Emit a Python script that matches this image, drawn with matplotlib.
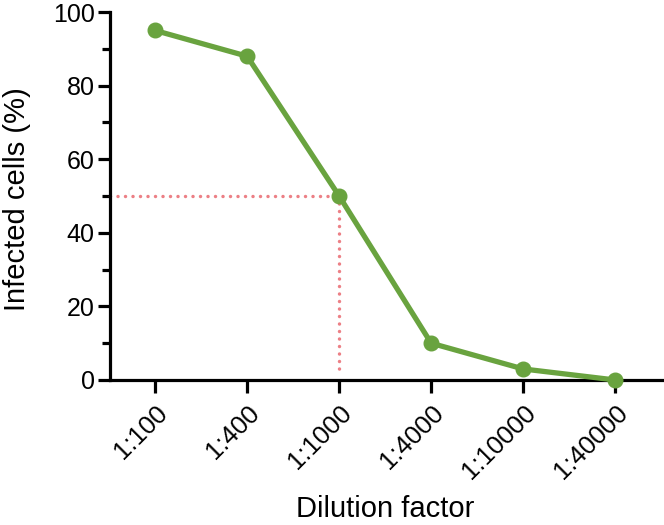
import matplotlib.pyplot as plt
from matplotlib.ticker import MultipleLocator

plt.rcParams['font.family'] = ['Liberation Sans', 'DejaVu Sans']

# data
dilutions = ['1:100', '1:400', '1:1000', '1:4000', '1:10000', '1:40000']
infected = [95, 88, 50, 10, 3, 0]
half_idx = 2
half_value = 50

green = '#69a33f'
red = '#ec8086'

fig = plt.figure(figsize=(6.64, 5.25), dpi=100)
ax = fig.add_axes([0.1657, 0.2762, 0.8343, 0.7008])

x = list(range(len(dilutions)))

# red dotted guide lines at 50 %
dots = (0, (0.01, 2.15))
ax.plot([-0.49, half_idx], [half_value, half_value], color=red, lw=2.5,
        linestyle=dots, dash_capstyle='round', zorder=2, clip_on=False)
ax.plot([half_idx, half_idx], [half_value, 1.5], color=red, lw=2.5,
        linestyle=dots, dash_capstyle='round', zorder=2, clip_on=False)

ax.plot(x, infected, color=green, lw=3.8, marker='o', markersize=10.5,
        zorder=3, clip_on=False)

ax.set_xlim(-0.49, 5.53)
ax.set_ylim(0, 100)
ax.set_xticks(x)
ax.set_xticklabels(dilutions, rotation=45, ha='right', rotation_mode='anchor',
                   fontsize=18.5)
ax.yaxis.set_major_locator(MultipleLocator(20))
ax.yaxis.set_minor_locator(MultipleLocator(10))
ax.tick_params(axis='y', labelsize=18)

for side in ['top', 'right']:
    ax.spines[side].set_visible(False)
for side in ['left', 'bottom']:
    ax.spines[side].set_linewidth(2.3)
ax.tick_params(which='major', width=2.3, length=9)
ax.tick_params(which='minor', width=2.3, length=5.5)
ax.tick_params(axis='x', pad=6)
ax.tick_params(axis='y', pad=2)

ax.set_xlabel('Dilution factor', fontsize=21)
ax.set_ylabel('Infected cells (%)', fontsize=21)
ax.xaxis.set_label_coords(0.496, -0.312)
ax.yaxis.set_label_coords(-0.142, 0.492)

fig.savefig('out.png', dpi=100)
